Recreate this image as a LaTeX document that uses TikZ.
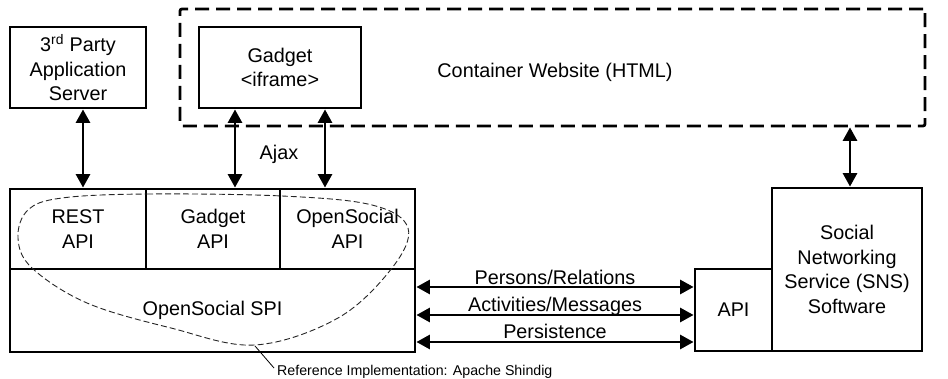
\documentclass[tikz,border=0pt]{standalone}
\usepackage{fontspec}
\setmainfont{Liberation Sans}
\usetikzlibrary{arrows.meta}
\begin{document}
\begin{tikzpicture}[x=1pt,y=-1pt,
  box/.style={draw, line width=2.8pt, inner sep=0pt, align=center, font=\fontsize{19.8}{24.5}\selectfont},
  lbl/.style={inner sep=0pt, font=\fontsize{19.8}{24.5}\selectfont},
  conn/.style={line width=2.8pt, {Triangle[length=13.5pt,width=14pt]}-{Triangle[length=13.5pt,width=14pt]}},
  blob/.style={draw=black!85, line width=0.9pt, dash pattern=on 6pt off 3pt},
]
\useasboundingbox (0,0) rectangle (948,379);
% top boxes
\node[box, minimum width=136pt, minimum height=81pt] (tp) at (78,67.5) {3\textsuperscript{rd} Party\\Application\\Server};
\node[draw, line width=2.8pt, dash pattern=on 14pt off 7pt, rounded corners=2pt, minimum width=745pt, minimum height=117pt] (cont) at (552.5,67.5) {};
\node[box, minimum width=162pt, minimum height=81pt] (gad) at (280,67.5) {Gadget\\<iframe>};
\node[lbl] (contlbl) at (555,72) {Container Website (HTML)};
% shindig block
\node[box, minimum width=136pt, minimum height=80pt] (rest) at (78,229) {REST\\API};
\node[box, minimum width=134pt, minimum height=80pt] (gapi) at (213,229) {Gadget\\API};
\node[box, minimum width=135pt, minimum height=80pt] (osapi) at (347.5,229) {OpenSocial\\API};
\node[box, minimum width=405pt, minimum height=83pt] (spi) at (212.5,310.5) {OpenSocial SPI};
% SNS
\node[box, minimum width=77pt, minimum height=82pt] (api) at (733.5,310) {\raisebox{-4pt}{API}};
\node[box, minimum width=150pt, minimum height=163pt] (sns) at (847,269.5) {Social\\Networking\\Service (SNS)\\Software};
% vertical connectors
\draw[conn] ([xshift=5pt]tp.south) -- ([xshift=5pt]tp.south |- rest.north);
\draw[conn] ([xshift=-45pt]gad.south) -- ([xshift=-45pt]gad.south |- gapi.north);
\draw[conn] ([xshift=45pt]gad.south) -- ([xshift=45pt]gad.south |- osapi.north);
\draw[conn] ([xshift=3pt]sns.north |- cont.south) -- ([xshift=3pt]sns.north);
\node[lbl] (ajax) at (279,154) {Ajax};
% horizontal connectors
\draw[conn] ([yshift=23.5pt]spi.east) -- ([yshift=23.5pt]spi.east -| api.west);
\draw[conn] ([yshift=-4.5pt]spi.east) -- ([yshift=-4.5pt]spi.east -| api.west);
\draw[conn] ([yshift=-31.5pt]spi.east) -- ([yshift=-31.5pt]spi.east -| api.west);
\node[lbl, anchor=base] (l1) at (555,284.5) {Persons/Relations};
\node[lbl, anchor=base] (l2) at (555,311.5) {Activities/Messages};
\node[lbl, anchor=base] (l3) at (555,338) {Persistence};
% reference implementation blob
\draw[blob] plot[smooth cycle, tension=0.6] coordinates {(62,198) (147,194) (282,196) (372,205) (408,228) (392,268) (338,318) (255,345) (171,328) (87,303) (32,268) (18,238) (28,210)};
\coordinate (blobbot) at (255,346);
\node[inner sep=0pt, anchor=west, font=\fontsize{14.2}{17}\selectfont] (refimpl) at (277,372) {Reference Implementation: Apache Shindig};
\draw[line width=0.8pt] (blobbot) -- ([shift={(-3pt,4pt)}]refimpl.west);
\end{tikzpicture}
\end{document}
